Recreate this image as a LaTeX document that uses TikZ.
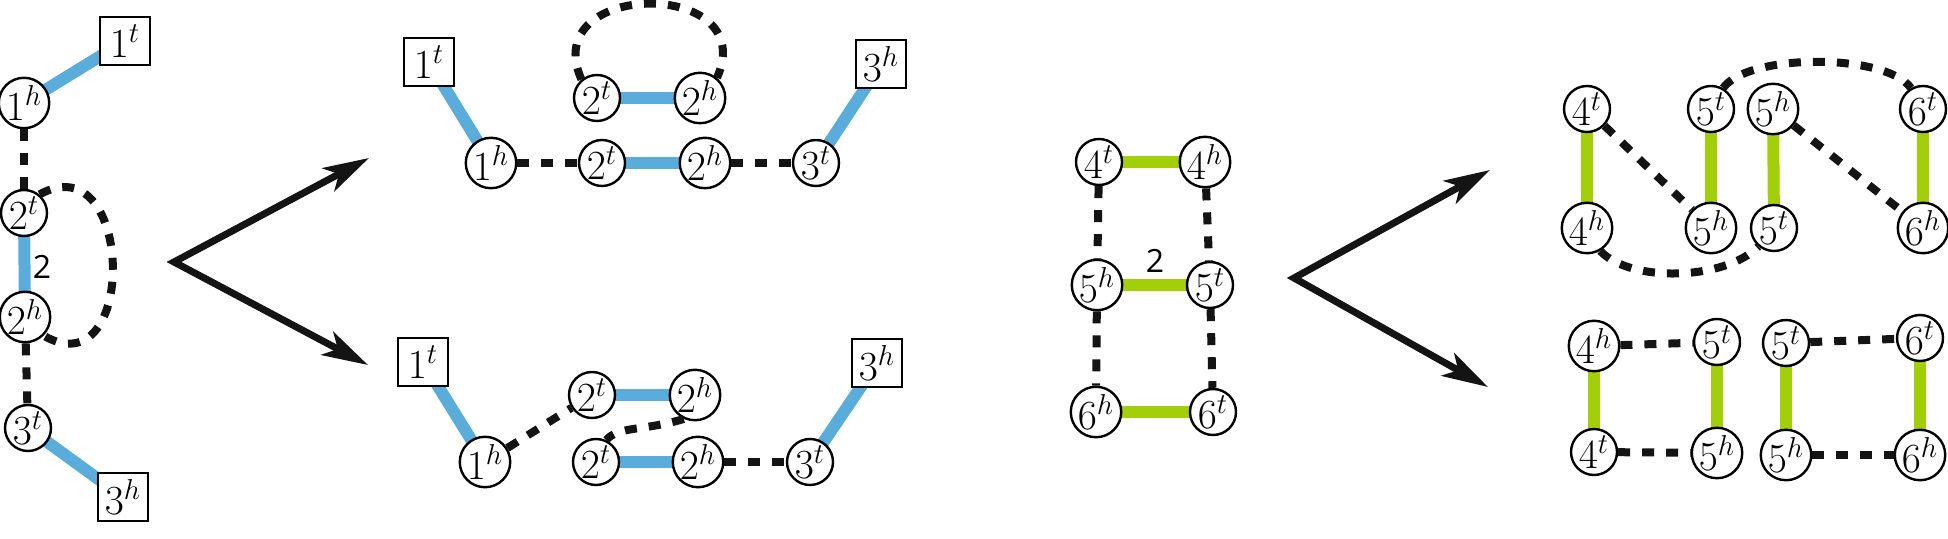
\documentclass[tikz,border=0pt]{standalone}
\usepackage{fontspec}
\newfontfamily\labelfont{Open Sans}
\usetikzlibrary{arrows.meta,backgrounds}
\definecolor{edgeblue}{RGB}{90,172,218}
\definecolor{edgegreen}{RGB}{163,207,10}
\definecolor{dashblack}{RGB}{20,20,20}
\tikzset{
  vtx/.style={circle, draw, line width=1.2pt, fill=white, minimum size=23pt, inner sep=0pt,
              font=\fontsize{20}{22}\selectfont},
  term/.style={rectangle, draw, line width=1.2pt, fill=white, minimum width=25pt, minimum height=24pt,
              inner sep=0pt, font=\fontsize{20}{22}\selectfont},
  lbl/.style={inner sep=0pt, font=\labelfont\fontsize{16}{18}\selectfont},
  blueedge/.style={draw=edgeblue, line width=6pt},
  greenedge/.style={draw=edgegreen, line width=6pt},
  adj/.style={draw=dashblack, line width=4pt, dash pattern=on 6pt off 6pt},
  bigarrow/.style={draw=dashblack, line width=3.5pt, line join=miter,
     {Stealth[length=23pt,width=13pt,inset=6pt]}-{Stealth[length=23pt,width=13pt,inset=6pt]}},
}
\begin{document}
\begin{tikzpicture}[x=0.5pt,y=-0.5pt]
\useasboundingbox (0,0) rectangle (1948,539);

% ---------- left group ----------
\node[term] (L1t) at (125,41) {$1^t$};
\node[vtx] (L1h) at (24,103) {$1^h$};
\node[vtx] (L2t) at (24,213) {$2^t$};
\node[vtx] (L2h) at (25,317) {$2^h$};
\node[vtx] (L3t) at (28,428) {$3^t$};
\node[term] (L3h) at (123,497) {$3^h$};
\node[lbl] (L2lab) at (42,267) {2};

% ---------- arrows left ----------
\coordinate (A1) at (174,262);
\coordinate (A1u) at (369,158);
\coordinate (A1d) at (368,365);

% ---------- middle top ----------
\node[term] (M1t) at (429,62) {$1^t$};
\node[vtx] (M1h) at (491,163) {$1^h$};
\node[vtx] (M2t) at (602,163) {$2^t$};
\node[vtx] (M2h) at (705,163) {$2^h$};
\node[vtx] (M3t) at (816,163) {$3^t$};
\node[term] (M3h) at (881,64) {$3^h$};
\node[vtx] (MU2t) at (597,98) {$2^t$};
\node[vtx] (MU2h) at (700,98) {$2^h$};

% ---------- middle bottom ----------
\node[term] (N1t) at (423,362) {$1^t$};
\node[vtx] (N1h) at (485,462) {$1^h$};
\node[vtx] (NU2t) at (592,395) {$2^t$};
\node[vtx] (NU2h) at (695,395) {$2^h$};
\node[vtx] (ND2t) at (596,462) {$2^t$};
\node[vtx] (ND2h) at (698,462) {$2^h$};
\node[vtx] (N3t) at (810,462) {$3^t$};
\node[term] (N3h) at (877,363) {$3^h$};

% ---------- green group ----------
\node[vtx] (G4t) at (1099,162) {$4^t$};
\node[vtx] (G4h) at (1205,162) {$4^h$};
\node[vtx] (G5h) at (1097,285) {$5^h$};
\node[vtx] (G5t) at (1210,285) {$5^t$};
\node[vtx] (G6h) at (1096,412) {$6^h$};
\node[vtx] (G6t) at (1213,412) {$6^t$};
\node[lbl] (G2lab) at (1155,261) {2};

% ---------- arrows right ----------
\coordinate (A2) at (1294,278);
\coordinate (A2u) at (1490,170);
\coordinate (A2d) at (1488,387);

% ---------- right top ----------
\node[vtx] (R4t) at (1587,109) {$4^t$};
\node[vtx] (R4h) at (1587,228) {$4^h$};
\node[vtx] (R5t) at (1711,109) {$5^t$};
\node[vtx] (R5h) at (1711,228) {$5^h$};
\node[vtx] (R5hb) at (1773,109) {$5^h$};
\node[vtx] (R5tb) at (1774,228) {$5^t$};
\node[vtx] (R6t) at (1923,109) {$6^t$};
\node[vtx] (R6h) at (1923,228) {$6^h$};

% ---------- right bottom ----------
\node[vtx] (S4h) at (1594,346) {$4^h$};
\node[vtx] (S5t) at (1717,342) {$5^t$};
\node[vtx] (S5tb) at (1786,343) {$5^t$};
\node[vtx] (S6t) at (1920,338) {$6^t$};
\node[vtx] (S4t) at (1594,452) {$4^t$};
\node[vtx] (S5h) at (1717,453) {$5^h$};
\node[vtx] (S5hb) at (1786,455) {$5^h$};
\node[vtx] (S6h) at (1920,455) {$6^h$};

\begin{scope}[on background layer]
  % left
  \draw[blueedge] (L1h.center) -- (L1t.center);
  \draw[blueedge] (L2t.center) -- (L2h.center);
  \draw[blueedge] (L3t.center) -- (L3h.center);
  % middle top
  \draw[blueedge] (M1t.center) -- (M1h.center);
  \draw[blueedge] (M2t.center) -- (M2h.center);
  \draw[blueedge] (M3t.center) -- (M3h.center);
  \draw[blueedge] (MU2t.center) -- (MU2h.center);
  % middle bottom
  \draw[blueedge] (N1t.center) -- (N1h.center);
  \draw[blueedge] (NU2t.center) -- (NU2h.center);
  \draw[blueedge] (ND2t.center) -- (ND2h.center);
  \draw[blueedge] (N3t.center) -- (N3h.center);
  % green group
  \draw[greenedge] (G4t.center) -- (G4h.center);
  \draw[greenedge] (G5h.center) -- (G5t.center);
  \draw[greenedge] (G6h.center) -- (G6t.center);
  % right top
  \draw[greenedge] (R4t.center) -- (R4h.center);
  \draw[greenedge] (R5t.center) -- (R5h.center);
  \draw[greenedge] (R5hb.center) -- (R5tb.center);
  \draw[greenedge] (R6t.center) -- (R6h.center);
  % right bottom
  \draw[greenedge] (S4h.center) -- (S4t.center);
  \draw[greenedge] (S5t.center) -- (S5h.center);
  \draw[greenedge] (S5tb.center) -- (S5hb.center);
  \draw[greenedge] (S6t.center) -- (S6h.center);
\end{scope}

% dashed adjacencies
\draw[adj] (L1h) -- (L2t);
\draw[adj] (L2h) -- (L3t);
\draw[adj] (L2t.50) .. controls +(95,-53) and +(95,55) .. (L2h.-45);

\draw[adj] (M1h) -- (M2t);
\draw[adj] (M2h) -- (M3t);
\draw[adj] (MU2t.130) .. controls +(-45,-100) and +(45,-100) .. (MU2h.50);

\draw[adj] (N1h) -- (NU2t);
\draw[adj] (ND2h) -- (N3t);
\draw[adj] (NU2h.-115) .. controls +(-40,12) and +(12,-14) .. (ND2t.65);

\draw[adj] (G4t) -- (G5h);
\draw[adj] (G4h) -- (G5t);
\draw[adj] (G5h) -- (G6h);
\draw[adj] (G5t) -- (G6t);

\draw[adj] (R4t) -- (R5h);
\draw[adj] (R5hb) -- (R6h);
\draw[adj] (R5t.60) .. controls +(25,-35) and +(-25,-35) .. (R6t.120);
\draw[adj] (R4h.-60) .. controls +(30,32) and +(-34,34) .. (R5tb.-130);

\draw[adj] (S4h) -- (S5t);
\draw[adj] (S4t) -- (S5h);
\draw[adj] (S5tb) -- (S6t);
\draw[adj] (S5hb) -- (S6h);

% big arrows
\draw[bigarrow] (A1u) -- (A1) -- (A1d);
\draw[bigarrow] (A2u) -- (A2) -- (A2d);
\end{tikzpicture}
\end{document}
